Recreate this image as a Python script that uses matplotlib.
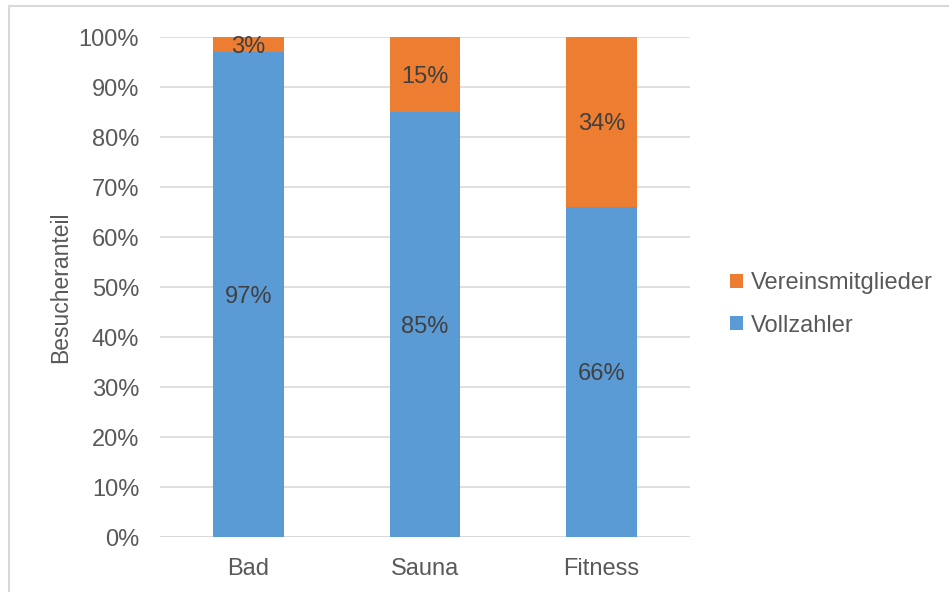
import matplotlib
matplotlib.use('Agg')
import matplotlib.pyplot as plt
from matplotlib.patches import Rectangle

categories = ['Bad', 'Sauna', 'Fitness']
vollzahler = [97, 85, 66]
vereinsmitglieder = [3, 15, 34]
yticks = list(range(0, 101, 10))

blue = '#5B9BD5'
orange = '#ED7D31'
textcol = '#595959'

plt.rcParams['font.family'] = ['Liberation Sans', 'DejaVu Sans']

fig = plt.figure(figsize=(9.49, 5.92), dpi=100)
ax = fig.add_axes([160 / 949, 55 / 592, 530 / 949, 500 / 592])

# outer chart frame
fig.patches.append(Rectangle((9 / 949, -0.1), 1.2, (592 - 6) / 592 + 0.1,
                             transform=fig.transFigure, fill=False,
                             edgecolor='#D9D9D9', linewidth=1.5))

x = range(len(categories))
b1 = ax.bar(x, vollzahler, width=0.4, color=blue, label='Vollzahler', zorder=2)
b2 = ax.bar(x, vereinsmitglieder, width=0.4, bottom=vollzahler, color=orange,
            label='Vereinsmitglieder', zorder=2)

for i in x:
    ax.text(i, vollzahler[i] / 2, '%d%%' % vollzahler[i], ha='center',
            va='center_baseline', fontsize=17, color='#404040', zorder=3)
    ax.text(i, vollzahler[i] + vereinsmitglieder[i] / 2, '%d%%' % vereinsmitglieder[i],
            ha='center', va='center_baseline', fontsize=17, color='#404040', zorder=3)

ax.set_xlim(-0.5, 2.5)
ax.set_ylim(0, 100)
ax.set_yticks(yticks)
ax.set_yticklabels(['%d%%' % t for t in yticks])
ax.set_xticks(list(x))
ax.set_xticklabels(categories)
ax.tick_params(axis='both', length=0, labelsize=17, labelcolor=textcol)
ax.tick_params(axis='y', pad=15)
ax.tick_params(axis='x', pad=15)
ax.grid(axis='y', color='#D9D9D9', linewidth=1.2, zorder=0)
for s in ax.spines.values():
    s.set_visible(False)
ax.axhline(0, color='#D9D9D9', linewidth=1.5, zorder=1)
ax.set_ylabel('Besucheranteil', fontsize=16.5, color=textcol, labelpad=5)

ax.legend(handles=[b2, b1], loc='center left', bbox_to_anchor=(1.035, 0.465),
          frameon=False, fontsize=17, labelcolor=textcol, handlelength=0.55,
          handleheight=0.55, handletextpad=0.35, labelspacing=0.85)

fig.savefig('out.png', dpi=100)
